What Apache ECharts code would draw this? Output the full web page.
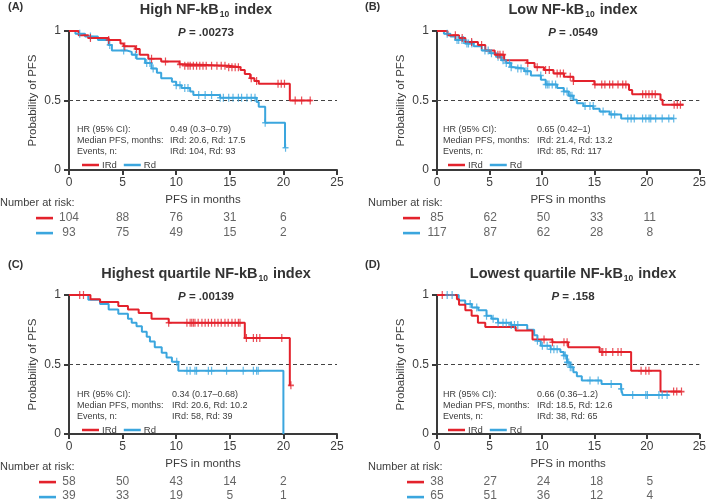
<!DOCTYPE html>
<html><head><meta charset="utf-8">
<script src="https://cdn.jsdelivr.net/npm/echarts@6/dist/echarts.min.js"></script>
<style>html,body{margin:0;padding:0;background:#fff}#c{width:709px;height:503px}</style>
</head><body><div id="c"></div>
<script>
// ---------- DATA ----------
const riskTimes = [0, 5, 10, 15, 20];
const groups = ['IRd', 'Rd'];

// Panel A: High NF-kB10 index
const aIrdT = [0, 0.9, 1.8, 3.7, 4.8, 5.1, 6.2, 6.6, 7.4, 8.6, 10.3, 10.8, 14.9, 16.0, 16.4, 16.9, 17.3, 17.7, 20.6];
const aIrdS = [1, 0.97, 0.95, 0.935, 0.91, 0.89, 0.87, 0.83, 0.80, 0.78, 0.76, 0.75, 0.74, 0.72, 0.69, 0.66, 0.64, 0.62, 0.50];
const aIrdEnd = 22.6;
const aIrdCens = [2.0, 3.7, 5.2, 6.3, 7.7, 9.0, 10.35, 10.8, 11.1, 11.3, 11.6, 11.9, 12.2, 12.5, 12.8, 13.3, 13.8, 14.2, 14.55, 14.9, 15.2, 15.5, 15.8, 17.0, 17.5, 19.5, 19.8, 20.1, 21.1, 21.7, 22.5];
const aRdT = [0, 0.6, 1.5, 2.7, 3.7, 4.0, 5.4, 5.85, 6.3, 7.1, 7.7, 8.2, 8.6, 9.6, 10.0, 10.5, 11.3, 11.6, 14.1, 17.5, 17.7, 18.3, 20.15];
const aRdS = [1, 0.98, 0.96, 0.935, 0.90, 0.86, 0.85, 0.83, 0.80, 0.77, 0.73, 0.70, 0.66, 0.635, 0.61, 0.59, 0.565, 0.54, 0.52, 0.49, 0.455, 0.34, 0.16];
const aRdEnd = 20.2;
const aRdCens = [1.0, 2.0, 3.8, 5.1, 6.2, 7.25, 7.55, 7.85, 10.0, 10.35, 10.8, 11.1, 12.1, 12.7, 13.3, 14.1, 14.4, 14.9, 15.3, 15.8, 16.1, 16.6, 17.0, 17.35, 18.3, 20.2];
const aRiskIrd = [104, 88, 76, 31, 6];
const aRiskRd = [93, 75, 49, 15, 2];

// Panel B: Low NF-kB10 index
const bIrdT = [0, 1.0, 2.1, 2.7, 3.9, 4.6, 5.5, 6.4, 8.6, 9.3, 10.2, 11.1, 12.1, 13.0, 15.0, 18.3, 18.6, 21.3, 21.5];
const bIrdS = [1, 0.97, 0.95, 0.92, 0.90, 0.86, 0.83, 0.79, 0.77, 0.74, 0.72, 0.695, 0.67, 0.64, 0.615, 0.575, 0.545, 0.505, 0.47];
const bIrdEnd = 23.5;
const bIrdCens = [1.75, 2.4, 3.3, 4.25, 5.8, 6.0, 6.3, 8.65, 9.55, 10.35, 10.7, 11.45, 11.75, 12.05, 12.7, 13.0, 15.05, 15.7, 16.0, 16.45, 16.75, 17.25, 17.7, 18.0, 19.6, 19.9, 20.2, 20.5, 20.8, 22.6, 22.9, 23.2];
const bRdT = [0, 0.66, 1.28, 1.75, 2.7, 3.5, 4.26, 5.04, 5.66, 6.13, 6.6, 7.07, 7.38, 8.32, 8.95, 9.9, 10.36, 11.45, 12.08, 12.55, 13.0, 13.33, 13.95, 14.9, 15.5, 16.46, 17.55];
const bRdS = [1, 0.98, 0.96, 0.935, 0.91, 0.89, 0.86, 0.84, 0.815, 0.79, 0.77, 0.74, 0.73, 0.71, 0.68, 0.65, 0.615, 0.59, 0.565, 0.535, 0.505, 0.48, 0.46, 0.44, 0.42, 0.40, 0.37];
const bRdEnd = 22.56;
const bRdCens = [0.97, 1.91, 2.07, 2.38, 2.53, 2.85, 3.0, 3.32, 4.57, 4.88, 5.19, 5.82, 6.29, 6.6, 6.91, 7.07, 7.7, 8.01, 8.48, 8.64, 9.89, 10.36, 10.51, 10.67, 10.98, 11.3, 12.08, 12.39, 12.7, 12.86, 14.11, 14.58, 14.89, 15.83, 16.61, 16.93, 18.18, 18.5, 18.8, 19.59, 19.9, 20.21, 20.37, 20.84, 21.46, 22.09, 22.56];
const bRiskIrd = [85, 62, 50, 33, 11];
const bRiskRd = [117, 87, 62, 28, 8];

// Panel C: Highest quartile NF-kB10 index
const cIrdT = [0, 2.0, 2.9, 4.6, 5.5, 6.5, 7.7, 9.3, 16.4, 20.6];
const cIrdS = [1, 0.97, 0.95, 0.92, 0.895, 0.87, 0.83, 0.80, 0.69, 0.35];
const cIrdEnd = 20.7;
const cIrdCens = [1.0, 1.35, 9.3, 11.0, 11.3, 11.45, 11.6, 11.75, 12.05, 12.4, 12.7, 13.0, 13.3, 13.6, 13.9, 14.2, 14.55, 14.85, 15.2, 15.5, 15.8, 15.95, 16.55, 17.2, 17.5, 17.8, 19.85, 20.7];
const cRdT = [0, 1.8, 2.9, 3.7, 4.6, 5.5, 5.85, 6.3, 6.8, 7.25, 7.55, 8.0, 8.65, 9.1, 9.6, 10.2, 20.0];
const cRdS = [1, 0.965, 0.935, 0.895, 0.865, 0.83, 0.80, 0.775, 0.735, 0.70, 0.665, 0.625, 0.585, 0.55, 0.52, 0.455, 0];
const cRdEnd = 20.0;
const cRdCens = [10.05, 11.0, 11.3, 11.75, 11.9, 13.0, 13.3, 14.7, 16.25, 17.2, 17.5, 17.65];
const cRiskIrd = [58, 50, 43, 14, 2];
const cRiskRd = [39, 33, 19, 5, 1];

// Panel D: Lowest quartile NF-kB10 index
const dIrdT = [0, 1.9, 2.1, 2.7, 3.3, 3.9, 4.6, 7.5, 9.1, 11.0, 12.5, 15.5, 18.5, 21.3];
const dIrdS = [1, 0.97, 0.93, 0.89, 0.85, 0.80, 0.77, 0.745, 0.68, 0.66, 0.625, 0.59, 0.455, 0.305];
const dIrdEnd = 23.3;
const dIrdCens = [0.5, 10.2, 11.0, 12.1, 12.4, 15.7, 15.8, 16.1, 16.75, 17.25, 17.55, 19.45, 19.9, 20.2, 22.55, 22.85, 23.3];
const dRdT = [0, 2.07, 2.69, 3.32, 3.94, 4.72, 5.2, 5.82, 7.07, 8.6, 9.26, 9.57, 9.89, 10.83, 11.76, 12.08, 12.39, 12.7, 13.0, 13.33, 13.8, 15.68, 17.55, 17.7];
const dRdS = [1, 0.96, 0.935, 0.91, 0.89, 0.85, 0.83, 0.80, 0.785, 0.75, 0.71, 0.67, 0.635, 0.61, 0.59, 0.565, 0.515, 0.48, 0.445, 0.415, 0.385, 0.36, 0.325, 0.28];
const dRdEnd = 22.1;
const dRdCens = [0.97, 1.44, 3.16, 3.79, 4.72, 5.35, 5.82, 6.29, 6.6, 7.07, 7.38, 7.7, 9.57, 10.04, 10.5, 10.83, 11.14, 11.45, 12.08, 12.23, 12.39, 12.55, 12.7, 12.86, 14.58, 15.36, 16.6, 17.55, 18.65, 19.9, 20.05, 21.15, 21.46, 21.93];
const dRiskIrd = [38, 27, 24, 18, 5];
const dRiskRd = [65, 51, 36, 12, 4];

// Text
const panelLetters = ['(A)', '(B)', '(C)', '(D)'];
const titlePre = ['High NF-kB', 'Low NF-kB', 'Highest quartile NF-kB', 'Lowest quartile NF-kB'];
const pValues = ['.00273', '.0549', '.00139', '.158'];
const statLabels = ['HR (95% CI):', 'Median PFS, months:', 'Events, n:'];
const aStats = ['0.49 (0.3\u20130.79)', 'IRd: 20.6, Rd: 17.5', 'IRd: 104, Rd: 93'];
const bStats = ['0.65 (0.42\u20131)', 'IRd: 21.4, Rd: 13.2', 'IRd: 85, Rd: 117'];
const cStats = ['0.34 (0.17\u20130.68)', 'IRd: 20.6, Rd: 10.2', 'IRd: 58, Rd: 39'];
const dStats = ['0.66 (0.36\u20131.2)', 'IRd: 18.5, Rd: 12.6', 'IRd: 38, Rd: 65'];

// ---------- BUILD ----------
const RED = '#e3222c', BLUE = '#3ba6de', TXT = '#3d3d3d', AX = '#3a3a3a';
const FONT = '"Liberation Sans", Arial, Helvetica, sans-serif';
const PLUS = 'path://M4,0h2v4h4v2h-4v4h-2v-4h-4v-2h4z';

const panels = [
  {T:[aIrdT,aRdT], S:[aIrdS,aRdS], E:[aIrdEnd,aRdEnd], C:[aIrdCens,aRdCens], R:[aRiskIrd,aRiskRd], st:aStats,
   left:69, width:268, top:31, h:139, tableTop:210.5, letterX:8, letterY:1, titleY:-3, pY:22, statX:[77,170], statY:125, legY:155, nrX:0, nrY:197, dashX:36},
  {T:[bIrdT,bRdT], S:[bIrdS,bRdS], E:[bIrdEnd,bRdEnd], C:[bIrdCens,bRdCens], R:[bRiskIrd,bRiskRd], st:bStats,
   left:437, width:266, top:31, h:139, tableTop:210.5, letterX:365, letterY:1, titleY:-3, pY:22, statX:[443,537], statY:125, legY:155, nrX:368, nrY:197, dashX:403},
  {T:[cIrdT,cRdT], S:[cIrdS,cRdS], E:[cIrdEnd,cRdEnd], C:[cIrdCens,cRdCens], R:[cRiskIrd,cRiskRd], st:cStats,
   left:69, width:268, top:295, h:139, tableTop:474.5, letterX:8, letterY:259, titleY:261, pY:286, statX:[77,172], statY:390, legY:420, nrX:0, nrY:461, dashX:39},
  {T:[dIrdT,dRdT], S:[dIrdS,dRdS], E:[dIrdEnd,dRdEnd], C:[dIrdCens,dRdCens], R:[dRiskIrd,dRiskRd], st:dStats,
   left:437, width:266, top:295, h:139, tableTop:474.5, letterX:365, letterY:259, titleY:261, pY:286, statX:[443,537], statY:390, legY:420, nrX:368, nrY:461, dashX:407}
];

function stepAt(T, S, t) { let v = S[0]; for (let i = 0; i < T.length; i++) if (T[i] <= t) v = S[i]; return v; }

const grid = [], xAxis = [], yAxis = [], series = [], title = [], legend = [], graphic = [];
panels.forEach((p, k) => {
  const gi = grid.length;
  grid.push({left:p.left, top:p.top, width:p.width, height:p.h});
  grid.push({left:p.left, top:p.tableTop, width:p.width, height:30});
  xAxis.push({gridIndex:gi, type:'value', min:0, max:25, interval:5,
    name:'PFS in months', nameLocation:'middle', nameGap:24,
    nameTextStyle:{color:TXT, fontSize:11.5, fontFamily:FONT},
    axisLine:{onZero:false, lineStyle:{color:AX, width:2}},
    axisTick:{length:5, lineStyle:{color:AX, width:2}},
    axisLabel:{color:TXT, fontSize:12, fontFamily:FONT, margin:7},
    splitLine:{show:false}});
  xAxis.push({gridIndex:gi+1, type:'value', min:0, max:25, show:false});
  yAxis.push({gridIndex:gi, type:'value', min:0, max:1, interval:0.5,
    name:'Probability of PFS', nameLocation:'middle', nameGap:30,
    nameTextStyle:{color:TXT, fontSize:11.5, fontFamily:FONT},
    axisLine:{show:true, lineStyle:{color:AX, width:2}},
    axisTick:{show:true, length:5, lineStyle:{color:AX, width:2}},
    axisLabel:{color:TXT, fontSize:12, fontFamily:FONT, margin:8},
    splitLine:{show:false}});
  yAxis.push({gridIndex:gi+1, type:'category', data:groups, inverse:true, show:false});

  [1, 0].forEach(j => {
    const col = j === 0 ? RED : BLUE;
    const T = p.T[j], S = p.S[j];
    const d = T.map((t, i) => [t, S[i]]);
    if (p.E[j] > T[T.length - 1]) d.push([p.E[j], S[S.length - 1]]);
    const s = {name:groups[j], type:'line', step:'end', xAxisIndex:gi, yAxisIndex:gi, data:d,
      showSymbol:false, symbol:'none', lineStyle:{color:col, width:2}, itemStyle:{color:col}, z:3 + (1 - j), silent:true, animation:false};
    if (j === 1) s.markLine = {silent:true, symbol:'none', label:{show:false},
      lineStyle:{color:'#444', type:[4, 3], width:1}, data:[{yAxis:0.5}], z:2};
    series.push(s);
    series.push({name:groups[j] + ' censored', type:'scatter', xAxisIndex:gi, yAxisIndex:gi,
      data:p.C[j].map(t => [t, stepAt(T, S, t)]), symbol:PLUS, symbolSize:[6, 8],
      itemStyle:{color:col}, z:4 + (1 - j), silent:true, animation:false});
    series.push({name:groups[j] + ' at risk', type:'scatter', xAxisIndex:gi+1, yAxisIndex:gi+1,
      data:riskTimes.map((t, i) => [t, j, p.R[j][i]]), symbolSize:0, silent:true, animation:false,
      label:{show:true, position:'inside', formatter:q => String(q.value[2]), color:TXT, fontSize:12, fontFamily:FONT}});
  });

  const cx = p.left + p.width / 2 - 2;
  title.push({text:'{a|' + titlePre[k] + '}{s|10}{a| index}', left:cx, top:p.titleY, textAlign:'center',
    textStyle:{rich:{a:{fontSize:14.5, fontWeight:'bold', color:'#333', fontFamily:FONT, lineHeight:18, verticalAlign:'top'},
      s:{fontSize:8.5, fontWeight:'bold', color:'#333', fontFamily:FONT, lineHeight:18, verticalAlign:'top', padding:[8,1,0,1]}}}});
  title.push({text:'{i|P}{b| = ' + pValues[k] + '}', left:cx, top:p.pY, textAlign:'center',
    textStyle:{rich:{i:{fontSize:11.5, fontWeight:'bold', fontStyle:'italic', color:'#333', fontFamily:FONT},
      b:{fontSize:11.5, fontWeight:'bold', color:'#333', fontFamily:FONT}}}});
  legend.push({data:groups, left:p.statX[0], top:p.legY, icon:'rect', itemWidth:17, itemHeight:2.5, itemGap:7,
    selectedMode:false, textStyle:{fontSize:9.5, color:TXT, fontFamily:FONT, padding:[0,0,0,-2]}});

  graphic.push({type:'text', left:p.letterX, top:p.letterY, style:{text:panelLetters[k], fill:'#333', font:'bold 11px ' + FONT}});
  statLabels.forEach((lab, i) => {
    graphic.push({type:'text', left:p.statX[0], top:p.statY + i * 11, style:{text:lab, fill:TXT, font:'9px ' + FONT}});
    graphic.push({type:'text', left:p.statX[1], top:p.statY + i * 11, style:{text:p.st[i], fill:TXT, font:'9px ' + FONT}});
  });
  graphic.push({type:'text', left:p.nrX, top:p.nrY, style:{text:'Number at risk:', fill:TXT, font:'11px ' + FONT}});
  graphic.push({type:'rect', shape:{x:p.dashX, y:p.tableTop + 6.3, width:17, height:2.6}, style:{fill:RED}});
  graphic.push({type:'rect', shape:{x:p.dashX, y:p.tableTop + 21.3, width:17, height:2.6}, style:{fill:BLUE}});
});

const chart = echarts.init(document.getElementById('c'), null, {renderer:'canvas'});
chart.setOption({animation:false, backgroundColor:'#fff', grid, xAxis, yAxis, series, title, legend, graphic});
</script></body></html>
